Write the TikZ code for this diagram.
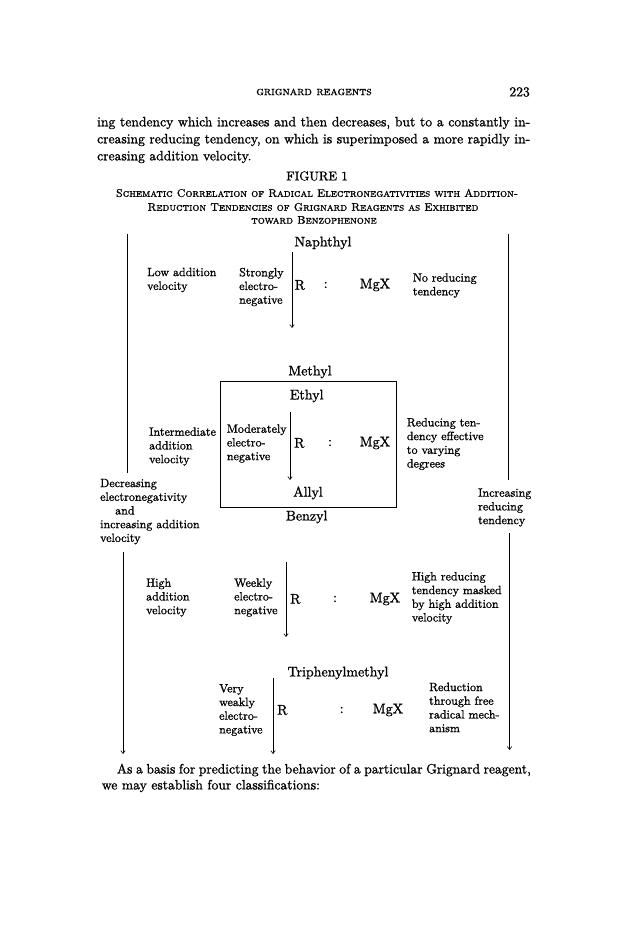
\documentclass[tikz,border=0pt]{standalone}
\usepackage{fontspec}
\setmainfont{lmroman10-regular.otf}[FakeBold=1.2]
\newfontfamily\capfont{lmromancaps10-regular.otf}[FakeBold=1.2]
\usepackage{tikz}
\usetikzlibrary{positioning,arrows.meta}

\begin{document}
\begin{tikzpicture}[x=1pt, y=-1pt, every node/.style={inner sep=0pt}, >={Straight Barb[length=3pt,width=4.5pt]},
  txt/.style={font=\fontsize{13.6}{17}\selectfont, anchor=west},
  sm/.style={font=\fontsize{12}{13.7}\selectfont, align=left, anchor=west},
  big/.style={font=\fontsize{14}{16}\selectfont},
  captxt/.style={font=\fontsize{11}{13}\selectfont\capfont},
  rule/.style={line width=0.6pt}]
\useasboundingbox (0,0) rectangle (629,931);

% head of page and running text
\node[font=\fontsize{12}{14}\selectfont\capfont] (head) at (314,92) {grignard reagents};
\node[txt, anchor=east] (pg) at (530,92) {223};
\node[txt] (t1) at (97,123) {\makebox[433pt][s]{ing tendency which increases and then decreases, but to a constantly in-}};
\node[txt] (t2) at (97,140) {\makebox[433pt][s]{creasing reducing tendency, on which is superimposed a more rapidly in-}};
\node[txt] (t3) at (97,157) {creasing addition velocity.};

% caption
\node[font=\fontsize{12.8}{14}\selectfont] (fig) at (317,176) {FIGURE 1};
\node[captxt] (cap1) at (317,193) {Schematic Correlation of Radical Electronegativities with Addition-};
\node[captxt] (cap2) at (313,207) {Reduction Tendencies of Grignard Reagents as Exhibited};
\node[captxt] (cap3) at (314,220) {toward Benzophenone};

% naphthyl
\node[big] (naph) at (323,243) {Naphthyl};
\node[sm] (vel1) at (147,280) {Low addition\\velocity};
\node[sm] (neg1) at (239,287) {Strongly\\electro-\\negative};
\node[big, anchor=west] (r1) at (294.5,285) {R}; \node[big] (c1) at (325.7,285) {:}; \node[big] (mg1) at (375,285) {MgX};
\node[sm] (red1) at (412.7,285.5) {No reducing\\tendency};

% methyl ... benzyl
\node[big] (meth) at (310,372) {Methyl};
\node[draw, rule, minimum width=176pt, minimum height=125.6pt] (box) at (308.7,444.5) {};
\node[big] (eth) at (306.7,396) {Ethyl};
\node[sm] (vel2) at (149,446.5) {Intermediate\\addition\\velocity};
\node[sm] (neg2) at (226.7,443.5) {Moderately\\electro-\\negative};
\node[big, anchor=west] (r2) at (294,443) {R}; \node[big] (c2) at (330,443) {:}; \node[big] (mg2) at (375,443) {MgX};
\node[sm] (red2) at (406.7,444) {Reducing ten-\\dency effective\\to varying\\degrees};
\node[big] (allyl) at (308,493) {Allyl};
\node[big] (benz) at (306.7,517) {Benzyl};

% side labels
\node[sm] (decr) at (100,511.6) {Decreasing\\electronegativity\\\hspace*{15pt}and\\increasing addition\\velocity};
\node[sm] (incr) at (478,507.5) {Increasing\\reducing\\tendency};

% weakly
\node[sm] (vel3) at (146,597.5) {High\\addition\\velocity};
\node[sm] (neg3) at (234,597.5) {Weekly\\electro-\\negative};
\node[big, anchor=west] (r3) at (290,599) {R}; \node[big] (c3) at (335,599) {:}; \node[big] (mg3) at (385,599) {MgX};
\node[sm] (red3) at (411.7,598) {High reducing\\tendency masked\\by high addition\\velocity};

% triphenylmethyl
\node[big] (triph) at (338,673) {Triphenylmethyl};
\node[sm] (neg4) at (219,710) {Very\\weakly\\electro-\\negative};
\node[big, anchor=west] (r4) at (277,710) {R}; \node[big] (c4) at (341.7,710) {:}; \node[big] (mg4) at (388,710) {MgX};
\node[sm] (red4) at (429,707.5) {Reduction\\through free\\radical mech-\\anism};

% text after the figure
\node[txt] (t4) at (116.7,770) {\makebox[414pt][s]{As a basis for predicting the behavior of a particular Grignard reagent,}};
\node[txt] (t5) at (101.7,786) {we may establish four classifications:};

% line ends
\coordinate (lt) at (127,234); \coordinate (lm) at (127,473);
\coordinate (lb) at (123,552); \coordinate (le) at (123,754);
\coordinate (rt) at (508,234); \coordinate (rm) at (508,480);
\coordinate (rb) at (509.5,533); \coordinate (re) at (509.5,750);
\coordinate (a1) at (292,252); \coordinate (b1) at (292,328);
\coordinate (a2) at (290,412); \coordinate (b2) at (290,480);
\coordinate (a3) at (286,562); \coordinate (b3) at (286,637);
\coordinate (a4) at (273,678); \coordinate (b4) at (273,754);

\foreach \a/\b in {lt/lm,rt/rm}
  \draw[rule] (\a) -- (\b);
\foreach \a/\b in {lb/le,rb/re,a1/b1,a2/b2,a3/b3,a4/b4}
  \draw[rule,->] (\a) -- (\b);
\end{tikzpicture}
\end{document}
